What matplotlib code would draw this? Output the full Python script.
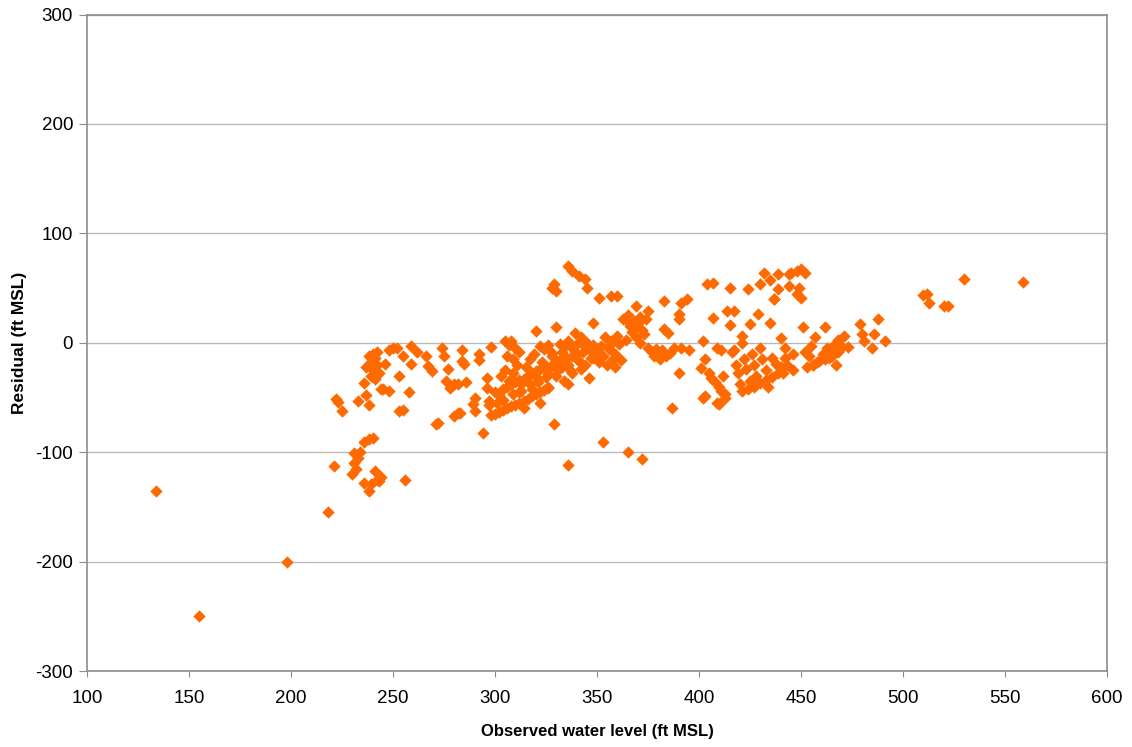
import matplotlib
matplotlib.use("Agg")
import matplotlib.pyplot as plt

plt.rcParams['font.family'] = ['Liberation Sans', 'DejaVu Sans']
plt.rcParams['axes.unicode_minus'] = False

# Observed water level (ft MSL) vs residual (ft MSL)
# left outliers
obs_a = [134, 155, 198, 218, 221, 222, 223, 225, 230, 231, 231, 232, 233, 234, 236,
         236, 238, 238, 239, 240, 241, 242, 243, 244, 256]
res_a = [-135, -250, -200, -155, -113, -51, -54, -62, -120, -110, -101, -115, -105, -100, -91,
         -128, -88, -135, -129, -87, -117, -125, -126, -123, -125]

# cluster 233-255
obs_b = [233, 236, 237, 237, 238, 238, 239, 239, 240, 240, 241, 241, 242, 242, 243,
         244, 245, 246, 248, 248, 250, 252, 253, 253, 255]
res_b = [-53, -37, -48, -22, -57, -12, -30, -18, -10, -25, -14, -33, -20, -8, -28,
         -42, -42, -19, -44, -7, -5, -5, -62, -30, -12]

# scattered 255-300
obs_c = [255, 258, 259, 259, 262, 266, 267, 269, 271, 272, 274, 275, 276, 277, 278,
         280, 280, 282, 282, 283, 284, 284, 285, 286, 289, 290, 290, 292, 292, 294,
         296, 296, 297, 297, 298]
res_c = [-61, -45, -19, -3, -8, -12, -21, -26, -74, -73, -5, -12, -35, -24, -41,
         -38, -67, -38, -64, -64, -7, -17, -19, -36, -56, -62, -50, -10, -16, -82,
         -32, -41, -53, -57, -4]

# dense 298-350
obs_d = [298, 300, 302, 304, 306, 308, 310, 312, 314, 316, 318, 320, 322, 324, 326,
         300, 302, 304, 306, 308, 310, 312, 314, 316, 318, 320, 322, 325, 328, 330,
         332, 335, 338, 340, 343, 346,
         303, 305, 307, 309, 311, 313, 315, 317, 319, 321, 323, 326, 328, 331, 333,
         336, 338, 341, 344, 347,
         305, 307, 308, 310, 312, 306, 309,
         320, 322, 324, 326, 328, 330, 332, 334, 336, 339, 340, 342, 345, 348,
         329, 330, 328, 336, 338, 341, 344, 345,
         326, 329, 336, 336, 314, 318, 322, 312, 330, 334, 338, 342, 346, 344,
         301, 304, 309, 313, 317, 321, 325, 333, 337, 340]
res_d = [-66, -65, -63, -61, -60, -58, -57, -55, -53, -51, -49, -47, -45, -43, -40,
         -45, -48, -42, -40, -38, -36, -34, -33, -30, -28, -26, -24, -22, -20, -18,
         -16, -14, -12, -10, -8, -6,
         -30, -25, -35, -28, -20, -38, -22, -15, -10, -33, -18, -28, -12, -25, -8,
         -20, -5, -17, -3, -14,
         2, -2, 2, -5, -8, -12, -15,
         11, -3, -6, -2, -9, 14, -1, -4, 2, 9, -1, 5, 0, -2,
         54, 47, 50, 70, 66, 61, 58, 50,
         -41, -74, -38, -112, -60, -42, -55, -45, -30, -35, -28, -24, -32, -20,
         -55, -52, -47, -44, -38, -36, -31, -22, -25, -15]

# 345-400
obs_e = [348, 350, 351, 352, 353, 354, 355, 356, 357, 358, 359, 360, 361, 362,
         348, 351, 357, 360, 363, 365, 366, 367, 368, 369, 369, 370, 371, 371, 372,
         373, 374, 375, 375, 377, 378, 379, 380, 381, 382, 383, 383, 384, 385, 386,
         387, 388, 390, 390, 390, 391, 391, 394, 395, 353, 365, 372, 364, 366, 368,
         370, 356, 359]
res_e = [-14, -8, -18, -3, -12, 5, -20, -6, 2, -15, -10, 6, -1, -16,
         18, 41, 43, 43, 22, 25, 15, 10, 20, 34, 5, 18, 24, 0, 12,
         8, 22, 29, -5, -8, -12, -6, -10, -15, -7, 38, 13, -12, 9, -9,
         -60, -5, 26, 22, -28, 36, -5, 40, -7, -91, -100, -106, 3, 17, 13,
         21, -3, -22]

# 400-440
obs_f = [401, 402, 402, 403, 404, 405, 406, 407, 407, 408, 409, 410, 410, 411, 411,
         412, 413, 414, 415, 415, 416, 417, 417, 418, 419, 420, 421, 421, 422, 423,
         424, 425, 425, 426, 427, 428, 429, 430, 430, 431, 432, 433, 434, 435, 435,
         436, 437, 438, 439, 440, 421, 424, 427, 430, 433, 436, 403, 409, 413]
res_f = [-23, 2, -50, -15, 54, -28, -32, 55, 23, -36, -5, -40, -56, -7, -44,
         -30, -50, 29, 50, 16, -8, 29, -7, -20, -28, -38, 6, 0, -15, -24,
         49, 17, -35, -10, -20, -30, 26, 54, -5, -15, 64, -25, -40, 57, 18,
         -14, 40, -19, 63, -22, -44, -42, -40, -37, -34, -31, -49, -55, -47]

# 435-492
obs_g = [439, 440, 441, 442, 443, 444, 444, 445, 446, 448, 448, 449, 450, 450, 451,
         452, 452, 454, 455, 456, 457, 458, 460, 461, 462, 463, 464, 465, 466, 467,
         468, 470, 471, 473, 479, 480, 481, 485, 486, 488, 491,
         439, 446, 453, 456, 459, 462, 465, 468, 437, 442]
res_g = [49, 4, -28, -5, -20, 63, 52, 64, -10, 66, 45, 50, 67, 41, 14,
         64, -8, -12, -3, -20, 5, -18, -15, -10, 14, -5, -14, -8, -2, -20,
         3, -4, 6, -4, 17, 8, 2, -5, 8, 22, 2,
         -28, -25, -22, -20, -17, -15, -12, -8, 40, -14]

# far right
obs_h = [510, 512, 513, 520, 522, 530, 559]
res_h = [44, 45, 36, 34, 34, 58, 56]

observed = obs_a + obs_b + obs_c + obs_d + obs_e + obs_f + obs_g + obs_h
residual = res_a + res_b + res_c + res_d + res_e + res_f + res_g + res_h

fig = plt.figure(figsize=(11.32, 7.47), dpi=100)
ax = fig.add_axes([0.0769, 0.1017, 0.9009, 0.8788])

ax.scatter(observed, residual, marker='D', s=40, color='#FF6A00', linewidths=0, zorder=3)

ax.set_xlim(100, 600)
ax.set_ylim(-300, 300)
ax.set_xticks(range(100, 601, 50))
ax.set_yticks(range(-300, 301, 100))
ax.yaxis.grid(True, color='#b8b8b8', linewidth=1)
ax.set_axisbelow(True)

for sp in ax.spines.values():
    sp.set_color('#8c8c8c')
    sp.set_linewidth(1.2)

ax.tick_params(axis='both', direction='out', color='#8c8c8c', labelsize=13.5)
ax.tick_params(axis='x', length=4, pad=10)
ax.tick_params(axis='y', length=6, pad=4)

ax.set_xlabel('Observed water level (ft MSL)', fontsize=12, fontweight='bold', labelpad=12)
ax.set_ylabel('Residual (ft MSL)', fontsize=12.5, fontweight='bold', labelpad=6)

fig.savefig('out.png', dpi=100)
